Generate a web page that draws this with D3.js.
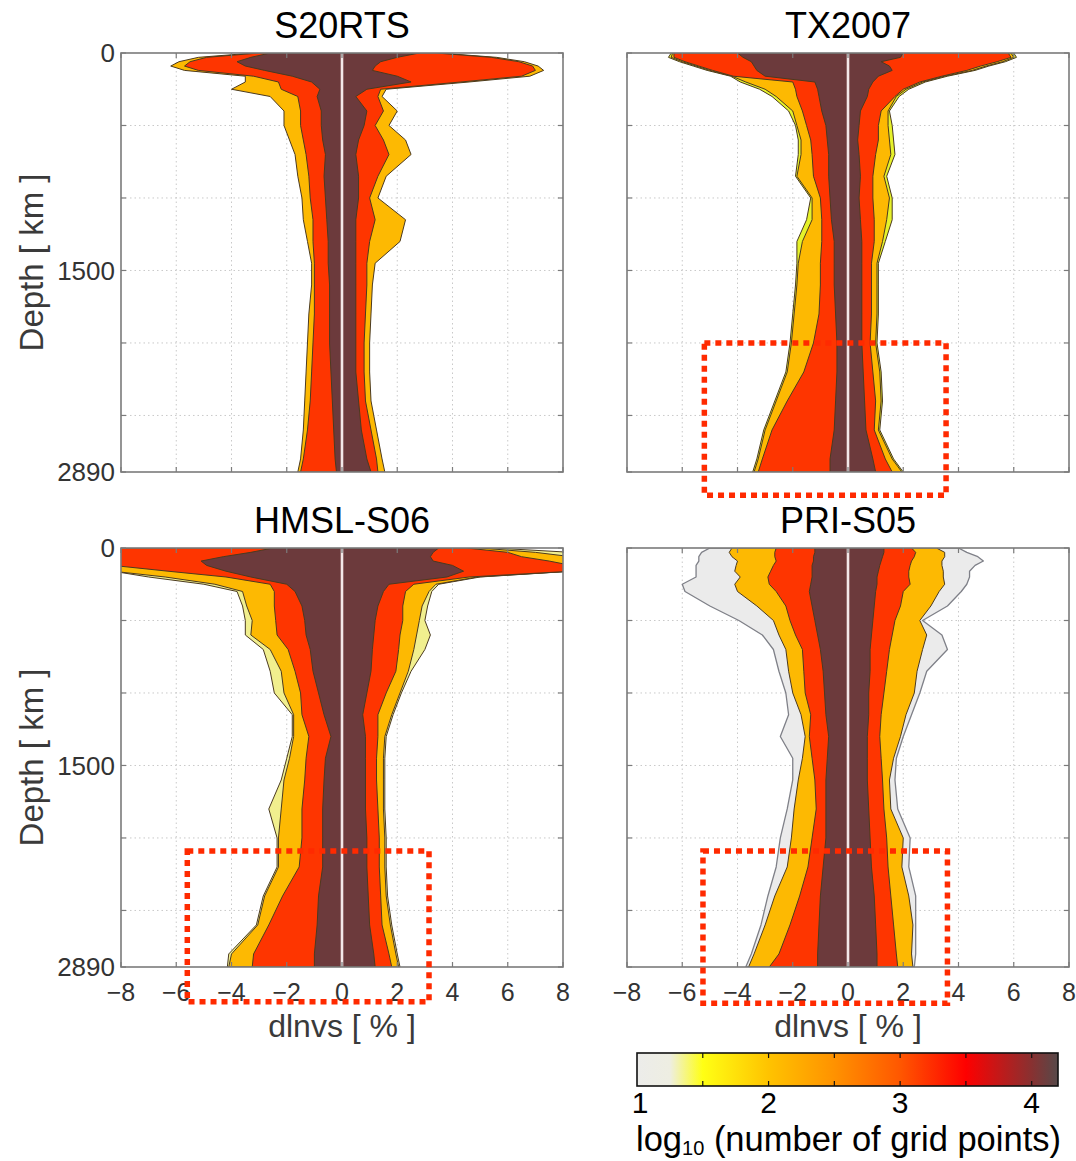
<!DOCTYPE html>
<html><head><meta charset="utf-8">
<script src="https://cdn.jsdelivr.net/npm/d3@7"></script>
<style>
html,body{margin:0;padding:0;background:#fff;}
svg{display:block;font-family:"Liberation Sans",Arial,Helvetica,sans-serif;}
</style></head>
<body><svg id="c" width="1076" height="1161"></svg>
<script>
// ---------------- DATA ----------------
const panelTitles = ["S20RTS", "TX2007", "HMSL-S06", "PRI-S05"];
const depths = [0,30,60,90,120,160,200,250,300,400,500,600,700,850,1000,1150,1300,1450,1600,1800,2000,2200,2400,2600,2800,2890];
const xTicks = [-8,-6,-4,-2,0,2,4,6,8];
const yTicks = [0,500,1000,1500,2000,2500,2890];
const yTickLabels = [0,1500,2890];
const cbTicks = [1,2,3,4];
const cbMinorTicks = [1.5,2,2.5,3,3.5,4];
const cbStopValues = [1.0,1.25,1.5,2.0,2.5,3.0,3.5,4.0,4.2];

// S20RTS (dlnvs % bounds of each contour level, left / right)
const s20rtsGoldLeft  = [-3.2,-5.2,-5.9,-6.2,-5.7,-3.5,-3.5,-4.0,-2.6,-2.1,-2.1,-1.9,-1.7,-1.6,-1.45,-1.4,-1.25,-1.1,-1.1,-1.2,-1.25,-1.3,-1.35,-1.4,-1.5,-1.6];
const s20rtsGoldRight = [3.5,5.6,6.6,7.1,7.3,6.8,4.6,1.6,1.45,2.0,1.7,2.3,2.5,1.6,1.3,2.3,2.1,1.2,1.1,1.05,1.0,1.0,1.05,1.25,1.45,1.55];
const s20rtsRedLeft   = [-3.0,-4.9,-5.5,-5.7,-5.2,-3.2,-2.3,-2.2,-1.6,-1.5,-1.5,-1.4,-1.3,-1.2,-1.15,-1.05,-1.05,-1.0,-1.0,-1.0,-1.05,-1.1,-1.15,-1.25,-1.4,-1.5];
const s20rtsRedRight  = [3.4,5.4,6.4,6.9,7.0,6.5,4.3,1.4,1.3,1.5,1.2,1.5,1.7,1.3,1.0,1.2,1.0,0.9,0.9,0.85,0.8,0.8,0.85,1.05,1.25,1.3];
const s20rtsDarkLeft  = [-2.6,-3.3,-3.8,-3.5,-2.8,-1.8,-1.1,-0.8,-0.9,-0.75,-0.75,-0.7,-0.6,-0.65,-0.6,-0.55,-0.5,-0.5,-0.45,-0.45,-0.45,-0.4,-0.35,-0.3,-0.25,-0.2];
const s20rtsDarkRight = [2.8,2.0,1.4,1.2,1.1,2.0,2.5,0.9,0.5,0.9,0.8,0.6,0.5,0.6,0.6,0.5,0.5,0.5,0.5,0.5,0.5,0.5,0.6,0.7,0.9,1.05];

// TX2007
const tx2007PaleLeft   = [-6.4,-6.5,-6.1,-5.6,-5.1,-4.25,-3.9,-3.2,-2.75,-2.15,-1.9,-1.8,-1.8,-1.9,-1.35,-1.5,-1.85,-1.85,-1.9,-2.0,-2.1,-2.25,-2.65,-3.05,-3.3,-3.45];
const tx2007PaleRight  = [6.0,6.1,5.7,5.1,4.6,3.6,2.8,2.2,1.85,1.5,1.6,1.65,1.7,1.4,1.6,1.6,1.35,1.1,1.1,1.1,1.05,1.2,1.25,1.15,1.65,2.0];
const tx2007GoldLeft   = [-6.35,-6.4,-6.0,-5.5,-5.0,-4.2,-3.7,-3.0,-2.6,-2.0,-1.85,-1.7,-1.7,-1.85,-1.3,-1.3,-1.65,-1.8,-1.85,-1.95,-2.05,-2.2,-2.6,-3.0,-3.25,-3.4];
const tx2007GoldRight  = [5.9,6.0,5.6,5.0,4.5,3.5,2.7,2.1,1.75,1.45,1.45,1.5,1.55,1.3,1.5,1.4,1.25,1.05,1.05,1.05,1.0,1.15,1.2,1.1,1.6,1.95];
const tx2007RedLeft    = [-6.3,-6.3,-5.9,-5.4,-4.9,-4.15,-2.0,-1.9,-1.85,-1.65,-1.5,-1.35,-1.3,-1.25,-1.0,-0.95,-0.95,-1.0,-1.0,-1.05,-1.25,-1.6,-2.2,-2.75,-3.1,-3.25];
const tx2007RedRight   = [5.8,5.9,5.4,4.8,4.3,3.4,2.6,2.0,1.7,1.2,1.1,1.1,1.0,0.9,0.9,0.95,0.95,0.85,0.85,0.85,0.8,0.9,1.0,0.95,1.35,1.6];
const tx2007DarkLeft   = [-4.0,-3.8,-3.5,-3.4,-3.3,-3.0,-1.2,-1.1,-1.05,-0.95,-0.8,-0.75,-0.7,-0.7,-0.65,-0.6,-0.5,-0.5,-0.5,-0.45,-0.4,-0.4,-0.45,-0.5,-0.65,-0.65];
const tx2007DarkRight  = [2.0,1.9,1.2,1.5,1.6,1.1,0.9,0.75,0.7,0.45,0.4,0.35,0.4,0.45,0.4,0.45,0.5,0.5,0.5,0.5,0.5,0.55,0.6,0.65,0.9,1.0];

// HMSL-S06
const hmslPaleLeft   = [-8.3,-8.3,-8.3,-8.3,-8.3,-8.3,-7.0,-5.0,-3.8,-3.6,-3.5,-3.5,-2.85,-2.6,-2.45,-1.8,-1.8,-2.0,-2.2,-2.65,-2.35,-2.35,-2.85,-3.1,-4.1,-4.15];
const hmslPaleRight  = [5.5,8.3,8.3,8.3,8.3,8.3,5.0,3.5,3.25,3.1,3.0,3.2,3.0,2.5,2.15,1.85,1.6,1.55,1.55,1.55,1.6,1.6,1.65,1.8,2.0,2.1];
const hmslGoldLeft   = [-8.3,-8.3,-8.3,-8.3,-8.3,-8.3,-6.4,-4.6,-3.6,-3.45,-3.25,-3.3,-2.6,-2.2,-2.1,-1.75,-1.75,-1.9,-2.1,-2.2,-2.3,-2.3,-2.8,-3.05,-4.0,-4.1];
const hmslGoldRight  = [5.0,7.0,8.3,8.3,8.3,8.3,4.9,3.4,3.15,2.9,2.8,2.7,2.6,2.4,2.1,1.8,1.55,1.5,1.5,1.5,1.55,1.55,1.6,1.75,1.95,2.05];
const hmslRedLeft    = [-8.3,-8.3,-8.3,-8.3,-8.3,-6.3,-4.2,-2.6,-2.45,-2.45,-2.4,-2.35,-1.95,-1.7,-1.5,-1.45,-1.2,-1.3,-1.35,-1.45,-1.45,-1.55,-2.15,-2.65,-3.2,-3.25];
const hmslRedRight   = [4.5,6.0,6.5,7.5,8.3,8.3,4.6,2.6,2.3,2.2,2.2,2.1,2.05,1.95,1.6,1.3,1.3,1.25,1.25,1.3,1.35,1.35,1.4,1.45,1.7,1.8];
const hmslDarkLeft   = [-2.5,-3.3,-4.3,-5.1,-4.9,-4.2,-3.3,-2.0,-1.7,-1.45,-1.35,-1.3,-1.15,-1.05,-0.85,-0.65,-0.4,-0.6,-0.65,-0.7,-0.7,-0.7,-0.85,-0.9,-1.0,-1.0];
const hmslDarkRight  = [3.5,3.3,3.2,3.3,4.0,4.4,3.8,1.7,1.5,1.3,1.2,1.15,1.1,1.05,0.9,0.75,0.85,0.85,0.85,0.85,0.9,0.9,0.95,1.0,1.15,1.2];

// PRI-S05
const priGrayLeft   = [-5.0,-5.3,-5.4,-5.4,-5.5,-5.5,-5.5,-6.0,-5.9,-5.0,-3.95,-3.1,-2.7,-2.5,-2.25,-2.15,-2.45,-2.0,-2.0,-2.2,-2.45,-2.6,-2.9,-3.15,-3.5,-3.7];
const priGrayRight  = [4.0,4.3,4.7,4.9,4.6,4.4,4.4,4.3,4.1,3.6,2.7,3.4,3.6,2.85,2.6,2.3,2.0,1.75,1.7,1.8,2.25,2.2,2.45,2.45,2.45,2.4];
const priGoldLeft   = [-4.2,-4.3,-4.2,-4.0,-4.05,-4.1,-3.9,-4.1,-4.0,-3.3,-2.7,-2.5,-2.25,-2.15,-2.0,-1.7,-1.55,-1.65,-1.8,-1.95,-2.05,-2.2,-2.65,-3.0,-3.4,-3.6];
const priGoldRight  = [3.2,3.5,3.5,3.4,3.4,3.45,3.45,3.5,3.3,3.0,2.6,2.85,2.7,2.5,2.4,2.1,1.9,1.65,1.5,1.55,2.0,1.95,2.2,2.35,2.3,2.35];
const priRedLeft    = [-2.6,-2.65,-2.65,-2.6,-2.7,-2.8,-2.9,-2.85,-2.6,-2.25,-2.1,-1.9,-1.65,-1.6,-1.55,-1.35,-1.4,-1.3,-1.2,-1.15,-1.3,-1.45,-1.75,-2.1,-2.5,-2.85];
const priRedRight   = [2.3,2.45,2.4,2.3,2.25,2.2,2.2,2.25,2.0,1.9,1.7,1.6,1.5,1.4,1.3,1.2,1.15,1.2,1.25,1.3,1.4,1.45,1.55,1.65,1.75,1.8];
const priDarkLeft   = [-1.2,-1.2,-1.25,-1.25,-1.3,-1.3,-1.3,-1.35,-1.4,-1.3,-1.2,-1.1,-1.0,-0.9,-0.85,-0.8,-0.7,-0.75,-0.8,-0.8,-0.8,-0.9,-1.0,-1.05,-1.1,-1.1];
const priDarkRight  = [1.3,1.3,1.25,1.2,1.15,1.1,1.05,1.05,1.0,0.95,0.9,0.85,0.8,0.8,0.75,0.75,0.7,0.7,0.7,0.75,0.8,0.85,0.95,1.0,1.05,1.05];

// highlight boxes [panel index, x0, x1, depth0, depth1]
const boxPanels = [1, 2, 3];
const boxX0 = [-5.2, -5.6, -5.25];
const boxX1 = [3.55, 3.15, 3.6];
const boxD0 = [2000, 2090, 2090];
const boxD1 = [3050, 3130, 3140];

// ---------------- STYLES ----------------
const FILL = {gray:"#ebebeb", paleTX:"#e6f22a", paleHM:"#f1ef8e", gold:"#fdb902", red:"#fe3500", dark:"#6c3a3c"};
const STROKE = {gray:"#7f8088", other:"#4b3a20"};
const cbStopColors = ["#ececea","#eeeee2","#ffff14","#ffc300","#ff9200","#ff5700","#fe0000","#883131","#564949"];

const panels = [
  {title:panelTitles[0], layers:[
    {f:FILL.gold,l:s20rtsGoldLeft,r:s20rtsGoldRight},
    {f:FILL.red,l:s20rtsRedLeft,r:s20rtsRedRight},
    {f:FILL.dark,l:s20rtsDarkLeft,r:s20rtsDarkRight}]},
  {title:panelTitles[1], layers:[
    {f:FILL.paleTX,l:tx2007PaleLeft,r:tx2007PaleRight},
    {f:FILL.gold,l:tx2007GoldLeft,r:tx2007GoldRight},
    {f:FILL.red,l:tx2007RedLeft,r:tx2007RedRight},
    {f:FILL.dark,l:tx2007DarkLeft,r:tx2007DarkRight}]},
  {title:panelTitles[2], layers:[
    {f:FILL.paleHM,l:hmslPaleLeft,r:hmslPaleRight},
    {f:FILL.gold,l:hmslGoldLeft,r:hmslGoldRight},
    {f:FILL.red,l:hmslRedLeft,r:hmslRedRight},
    {f:FILL.dark,l:hmslDarkLeft,r:hmslDarkRight}]},
  {title:panelTitles[3], layers:[
    {f:FILL.gray,l:priGrayLeft,r:priGrayRight,gray:true},
    {f:FILL.gold,l:priGoldLeft,r:priGoldRight},
    {f:FILL.red,l:priRedLeft,r:priRedRight},
    {f:FILL.dark,l:priDarkLeft,r:priDarkRight}]}
];

// ---------------- LAYOUT ----------------
const PW = 442, PH = 419;
const origins = [[121,53],[627,53],[121,548],[627,548]];

const svg = d3.select("#c");
const defs = svg.append("defs");

panels.forEach((p, i) => {
  const [ox, oy] = origins[i];
  const x = d3.scaleLinear().domain([-8, 8]).range([ox, ox + PW]);
  const y = d3.scaleLinear().domain([0, 2890]).range([oy, oy + PH]);
  p.x = x; p.y = y;
  const g = svg.append("g");
  const cid = "clip" + i;
  defs.append("clipPath").attr("id", cid).append("rect")
    .attr("x", ox).attr("y", oy).attr("width", PW).attr("height", PH);

  // grid
  const grid = g.append("g").attr("stroke", "#c9c9c9").attr("stroke-width", 1).attr("stroke-dasharray", "1.5,3");
  xTicks.slice(1, -1).forEach(t => grid.append("line").attr("x1", x(t)).attr("x2", x(t)).attr("y1", oy).attr("y2", oy + PH));
  yTicks.slice(1, -1).forEach(t => grid.append("line").attr("x1", ox).attr("x2", ox + PW).attr("y1", y(t)).attr("y2", y(t)));

  // contour fills
  const area = d3.area().curve(d3.curveLinear)
    .y(d => y(d.depth)).x0(d => x(d.l)).x1(d => x(d.r));
  const fg = g.append("g").attr("clip-path", `url(#${cid})`);
  p.layers.forEach(L => {
    const rows = depths.map((dep, k) => ({depth: dep, l: L.l[k], r: L.r[k]}));
    fg.append("path").attr("d", area(rows))
      .attr("fill", L.f)
      .attr("stroke", L.gray ? STROKE.gray : STROKE.other)
      .attr("stroke-width", L.gray ? 1.3 : 1)
      .attr("stroke-linejoin", "round");
  });
  // zero line
  fg.append("line").attr("x1", x(0)).attr("x2", x(0)).attr("y1", oy).attr("y2", oy + PH)
    .attr("stroke", "#f3e8e8").attr("stroke-width", 2.6);

  // frame
  g.append("rect").attr("x", ox).attr("y", oy).attr("width", PW).attr("height", PH)
    .attr("fill", "none").attr("stroke", "#7b7b7b").attr("stroke-width", 1.6);
  // ticks (inside)
  const tk = g.append("g").attr("stroke", "#7b7b7b").attr("stroke-width", 1.2);
  xTicks.forEach(t => {
    tk.append("line").attr("x1", x(t)).attr("x2", x(t)).attr("y1", oy + PH).attr("y2", oy + PH - 5);
    tk.append("line").attr("x1", x(t)).attr("x2", x(t)).attr("y1", oy).attr("y2", oy + 5);
  });
  yTicks.forEach(t => {
    tk.append("line").attr("x1", ox).attr("x2", ox + 5).attr("y1", y(t)).attr("y2", y(t));
    tk.append("line").attr("x1", ox + PW).attr("x2", ox + PW - 5).attr("y1", y(t)).attr("y2", y(t));
  });

  // title
  g.append("text").attr("x", x(0)).attr("y", oy - 15).attr("text-anchor", "middle")
    .attr("font-size", 36).attr("fill", "#000").text(p.title);

  // y labels on left column
  if (i % 2 === 0) {
    yTickLabels.forEach(t => g.append("text").attr("x", ox - 6).attr("y", y(t)).attr("dy", "0.36em")
      .attr("text-anchor", "end").attr("font-size", 26).attr("fill", "#333").text(t));
    g.append("text").attr("transform", `translate(${ox - 90},${oy + PH / 2}) rotate(-90)`)
      .attr("text-anchor", "middle").attr("dy", "0.36em").attr("font-size", 33).attr("fill", "#3a3a3a")
      .text("Depth [ km ]");
  }
  // x labels on bottom row
  if (i >= 2) {
    xTicks.forEach(t => g.append("text").attr("x", x(t)).attr("y", oy + PH + 25).attr("dy", "0.36em")
      .attr("text-anchor", "middle").attr("font-size", 25).attr("fill", "#333")
      .text(t < 0 ? "\u2212" + Math.abs(t) : String(t)));
    g.append("text").attr("x", x(0)).attr("y", oy + PH + 58).attr("dy", "0.36em")
      .attr("text-anchor", "middle").attr("font-size", 32).attr("fill", "#3a3a3a").text("dlnvs [ % ]");
  }
});

// highlight boxes
boxPanels.forEach((pi, k) => {
  const p = panels[pi];
  svg.append("rect")
    .attr("x", p.x(boxX0[k])).attr("y", p.y(boxD0[k]))
    .attr("width", p.x(boxX1[k]) - p.x(boxX0[k])).attr("height", p.y(boxD1[k]) - p.y(boxD0[k]))
    .attr("fill", "none").attr("stroke", "#ff2a00").attr("stroke-width", 5.5)
    .attr("stroke-dasharray", "6,5");
});

// ---------------- COLORBAR ----------------
const cb = d3.scaleLinear().domain([1, 4.2]).range([637, 1058]);
const cbY = 1053, cbH = 33;
const grad = defs.append("linearGradient").attr("id", "cbg")
  .attr("gradientUnits", "userSpaceOnUse").attr("x1", cb(1)).attr("x2", cb(4.2)).attr("y1", 0).attr("y2", 0);
cbStopValues.forEach((v, k) => grad.append("stop")
  .attr("offset", (v - 1) / 3.2).attr("stop-color", cbStopColors[k]));
svg.append("rect").attr("x", cb(1)).attr("y", cbY).attr("width", cb(4.2) - cb(1)).attr("height", cbH)
  .attr("fill", "url(#cbg)").attr("stroke", "#111").attr("stroke-width", 1.6);
const ct = svg.append("g").attr("stroke", "#111").attr("stroke-width", 1.2);
cbMinorTicks.forEach(v => {
  ct.append("line").attr("x1", cb(v)).attr("x2", cb(v)).attr("y1", cbY).attr("y2", cbY + 5);
  ct.append("line").attr("x1", cb(v)).attr("x2", cb(v)).attr("y1", cbY + cbH).attr("y2", cbY + cbH - 5);
});
cbTicks.forEach(v => svg.append("text").attr("x", cb(v) + (v === 1 ? 3 : 0)).attr("y", 1102).attr("dy", "0.36em")
  .attr("text-anchor", "middle").attr("font-size", 30).attr("fill", "#000").text(v));
const lab = svg.append("text").attr("x", 636).attr("y", 1151).attr("font-size", 34.5).attr("fill", "#000");
lab.append("tspan").text("log");
lab.append("tspan").attr("font-size", 20).attr("dy", 4).text("10");
lab.append("tspan").attr("dy", -4).text(" (number of grid points)");
</script>
</body></html>
